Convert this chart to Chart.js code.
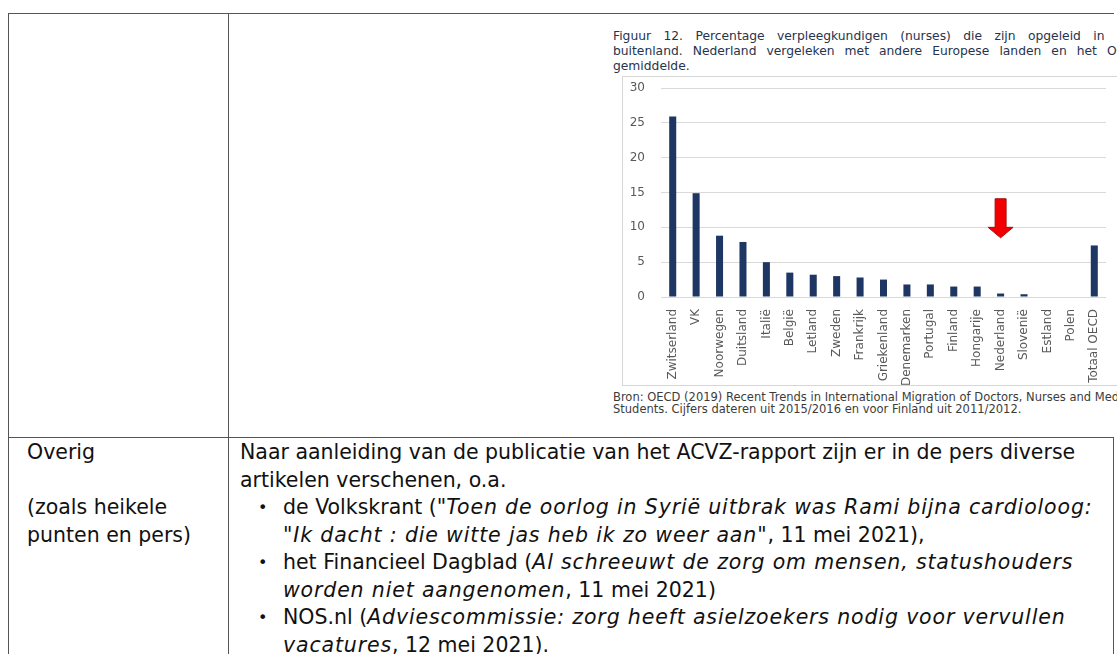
<!DOCTYPE html>
<html>
<head>
<meta charset="utf-8">
<script src="https://cdn.jsdelivr.net/npm/chart.js@4.4.1/dist/chart.umd.min.js"></script>
<style>
  html, body { margin:0; padding:0; }
  body { width:1117px; height:654px; overflow:hidden; position:relative; background:#fff; font-family:"DejaVu Sans", Verdana, sans-serif; }
  .ln { position:absolute; background:#555; }
  .t { position:absolute; white-space:nowrap; color:#111; font-size:20.5px; line-height:27.5px; }
  .t i { letter-spacing:0.85px; }
  .cap { position:absolute; white-space:nowrap; color:#26344d; font-size:12.3px; line-height:15px; left:613px; }
  .src { position:absolute; white-space:nowrap; color:#3c3c3c; font-size:11.5px; line-height:11.5px; left:613px; }
  #frame { position:absolute; left:622px; top:76px; width:560px; height:308px; border:1px solid #d6d6d6; background:#fff; }
  #c { position:absolute; left:623px; top:77px; }
</style>
</head>
<body>
<!-- table borders -->
<div class="ln" style="left:8px; top:13px; width:1106px; height:1px;"></div>
<div class="ln" style="left:8px; top:13px; width:1px; height:641px;"></div>
<div class="ln" style="left:228px; top:13px; width:1px; height:641px;"></div>
<div class="ln" style="left:8px; top:437px; width:1106px; height:1px;"></div>
<div class="ln" style="left:1113px; top:437px; width:1px; height:217px;"></div>

<!-- figure caption -->
<div class="cap" id="cap1" style="top:29px;">Figuur 12. Percentage verpleegkundigen (nurses) die zijn opgeleid in het</div>
<div class="cap" id="cap2" style="top:44px;">buitenland. Nederland vergeleken met andere Europese landen en het OESO-</div>
<div class="cap" style="top:59px;">gemiddelde.</div>

<div id="frame"></div>
<canvas id="c" width="494" height="308" style="width:494px;height:308px;"></canvas>

<div class="src" style="top:392px;">Bron: OECD (2019) Recent Trends in International Migration of Doctors, Nurses and Medical</div>
<div class="src" style="top:403.5px;">Students. Cijfers dateren uit 2015/2016 en voor Finland uit 2011/2012.</div>

<!-- left column -->
<div class="t" style="left:27px; top:439px;">Overig</div>
<div class="t" style="left:27px; top:494px;">(zoals heikele</div>
<div class="t" style="left:27px; top:521.5px;">punten en pers)</div>

<!-- right column -->
<div class="t" style="left:240px; top:439px;">Naar aanleiding van de publicatie van het ACVZ-rapport zijn er in de pers diverse</div>
<div class="t" style="left:240px; top:466.5px;">artikelen verschenen, o.a.</div>
<div class="t" style="left:258px; top:494px; font-size:16px;">•</div>
<div class="t" style="left:283px; top:494px;">de Volkskrant ("<i>Toen de oorlog in Syrië uitbrak was Rami bijna cardioloog:</i></div>
<div class="t" style="left:283px; top:521.5px;"><i>"Ik dacht : die witte jas heb ik zo weer aan"</i>, 11 mei 2021),</div>
<div class="t" style="left:258px; top:549px; font-size:16px;">•</div>
<div class="t" style="left:283px; top:549px;">het Financieel Dagblad (<i>Al schreeuwt de zorg om mensen, statushouders</i></div>
<div class="t" style="left:283px; top:576.5px;"><i>worden niet aangenomen</i>, 11 mei 2021)</div>
<div class="t" style="left:258px; top:604px; font-size:16px;">•</div>
<div class="t" style="left:283px; top:604px;">NOS.nl (<i>Adviescommissie: zorg heeft asielzoekers nodig voor vervullen</i></div>
<div class="t" style="left:283px; top:631.5px;"><i>vacatures</i>, 12 mei 2021).</div>

<script>
// ---- data ----
const categories = ['Zwitserland','VK','Noorwegen','Duitsland','Italië','België','Letland','Zweden','Frankrijk','Griekenland','Denemarken','Portugal','Finland','Hongarije','Nederland','Slovenië','Estland','Polen','Totaal OECD'];
const values = [25.9, 14.9, 8.8, 7.9, 5.0, 3.5, 3.2, 3.0, 2.8, 2.5, 1.8, 1.8, 1.5, 1.5, 0.5, 0.4, 0, 0, 7.4];
const yTickValues = [0, 5, 10, 15, 20, 25, 30];
const arrowCategory = 'Nederland';
const arrowTop = 14.1, arrowHeadStart = 10.0, arrowTip = 8.5;

// caption word spacing: line 1 "in" ends at x=1113, line 2 "O" starts at x=1107
(function(){
  const measure = txt => {
    const p = document.createElement('span');
    p.style.cssText = 'position:absolute;visibility:hidden;white-space:pre;font-size:12.3px;font-family:"DejaVu Sans"';
    p.textContent = txt; document.body.appendChild(p);
    const w = p.getBoundingClientRect().width; p.remove(); return w;
  };
  const l1 = 'Figuur 12. Percentage verpleegkundigen (nurses) die zijn opgeleid in';
  const ws1 = Math.max(0, (1113 - 613 - measure(l1)) / 9);
  const l2 = 'buitenland. Nederland vergeleken met andere Europese landen en het ';
  const ws2 = Math.max(0, (1107 - 613 - measure(l2)) / 9);
  document.getElementById('cap1').style.wordSpacing = ws1 + 'px';
  document.getElementById('cap2').style.wordSpacing = ws2 + 'px';
})();

const arrowPlugin = {
  id: 'arrow',
  afterDatasetsDraw(chart) {
    const x = chart.scales.x.getPixelForValue(categories.indexOf(arrowCategory));
    const y = chart.scales.y;
    const yt = y.getPixelForValue(arrowTop), yh = y.getPixelForValue(arrowHeadStart), yp = y.getPixelForValue(arrowTip);
    const sw = 5.5, hw = 12.5;
    const ctx = chart.ctx;
    ctx.save();
    ctx.beginPath();
    ctx.moveTo(x - sw, yt); ctx.lineTo(x + sw, yt); ctx.lineTo(x + sw, yh);
    ctx.lineTo(x + hw, yh); ctx.lineTo(x, yp); ctx.lineTo(x - hw, yh);
    ctx.lineTo(x - sw, yh); ctx.closePath();
    ctx.fillStyle = '#f20000'; ctx.fill();
    ctx.strokeStyle = '#a01010'; ctx.lineWidth = 1; ctx.stroke();
    ctx.restore();
  }
};

Chart.defaults.font.family = '"DejaVu Sans", Verdana, sans-serif';
new Chart(document.getElementById('c'), {
  type: 'bar',
  data: { labels: categories, datasets: [{ data: values, backgroundColor: '#1d3663', barPercentage: 0.3, categoryPercentage: 1 }] },
  options: {
    responsive: false, animation: false, devicePixelRatio: 1,
    layout: { autoPadding: false, padding: { top: 11, right: 11, left: 0, bottom: 0 } },
    plugins: { legend: { display: false }, tooltip: { enabled: false } },
    scales: {
      x: {
        offset: true,
        grid: { display: false }, border: { display: false },
        ticks: { color: '#595959', font: { size: 12 }, minRotation: 90, maxRotation: 90, padding: 4, autoSkip: false },
        afterFit: s => { s.height = 88; s.paddingLeft = 0; s.paddingRight = 0; }
      },
      y: {
        min: 0, max: 30,
        grid: { color: '#d9d9d9', lineWidth: 1, drawTicks: false }, border: { display: false },
        ticks: { color: '#595959', font: { size: 12 }, padding: 16 },
        afterBuildTicks: s => { s.ticks = yTickValues.map(v => ({ value: v })); },
        afterFit: s => { s.width = 38; s.paddingTop = 0; s.paddingBottom = 0; }
      }
    }
  },
  plugins: [arrowPlugin]
});
</script>
</body>
</html>
